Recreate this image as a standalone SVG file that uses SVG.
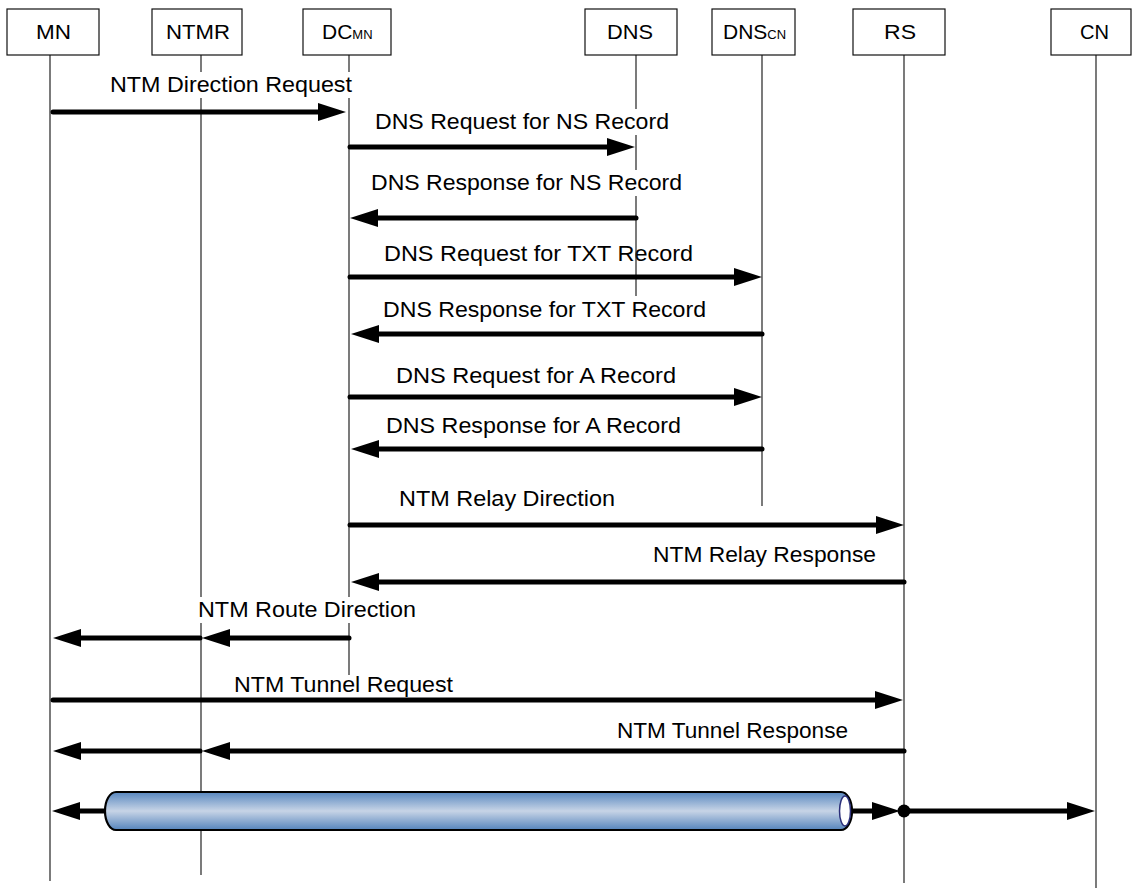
<svg xmlns="http://www.w3.org/2000/svg" width="1134" height="888" viewBox="0 0 1134 888">
<style>
.box{fill:#fff;stroke:#111;stroke-width:1.2}
.lbl{font-family:"Liberation Sans",Arial,sans-serif;font-size:21px;fill:#000}
.sub{font-size:13px}
.life{stroke:#222;stroke-width:1.2;fill:none}
.msg{stroke:#000;stroke-width:5;fill:none;stroke-linecap:round;marker-end:url(#ah)}
.msgtxt{font-family:"Liberation Sans",Arial,sans-serif;font-size:22px;fill:#000}
.mask{fill:#fff}
</style>
<defs>
<marker id="ah" viewBox="0 0 28 18" markerWidth="28" markerHeight="18" refX="4" refY="9" orient="auto" markerUnits="userSpaceOnUse">
<path d="M0,0 L28,9 L0,18 Z" fill="#000"/>
</marker>
<linearGradient id="tubeg" x1="0" y1="0" x2="0" y2="1">
<stop offset="0" stop-color="#5887bf"/>
<stop offset="0.5" stop-color="#c7d4e6"/>
<stop offset="1" stop-color="#5584bc"/>
</linearGradient>
</defs>
<rect width="1134" height="888" fill="#fff"/>

<g id="lifelines">
<line class="life" x1="50" y1="55" x2="50" y2="881"/>
<line class="life" x1="201" y1="55" x2="201" y2="875"/>
<line class="life" x1="349" y1="55" x2="349" y2="675"/>
<line class="life" x1="636" y1="55" x2="636" y2="240"/>
<line class="life" x1="762" y1="55" x2="762" y2="506"/>
<line class="life" x1="904" y1="55" x2="904" y2="883"/>
<line class="life" x1="1096" y1="55" x2="1096" y2="888"/>
</g>

<g id="node-MN">
<rect class="box" x="7" y="9" width="92" height="46"/>
<text class="lbl" x="36" y="39" textLength="35" lengthAdjust="spacingAndGlyphs">MN</text>
</g>
<g id="node-NTMR">
<rect class="box" x="152" y="9" width="90" height="46"/>
<text class="lbl" x="166" y="39" textLength="64" lengthAdjust="spacingAndGlyphs">NTMR</text>
</g>
<g id="node-DCMN">
<rect class="box" x="303" y="9" width="88" height="46"/>
<text class="lbl" x="322" y="39">DC<tspan class="sub">MN</tspan></text>
</g>
<g id="node-DNS">
<rect class="box" x="585" y="9" width="92" height="46"/>
<text class="lbl" x="607" y="39" textLength="46" lengthAdjust="spacingAndGlyphs">DNS</text>
</g>
<g id="node-DNSCN">
<rect class="box" x="712" y="9" width="83" height="46"/>
<text class="lbl" x="723" y="39">DNS<tspan class="sub">CN</tspan></text>
</g>
<g id="node-RS">
<rect class="box" x="853" y="9" width="92" height="46"/>
<text class="lbl" x="884" y="39" textLength="32" lengthAdjust="spacingAndGlyphs">RS</text>
</g>
<g id="node-CN">
<rect class="box" x="1051" y="9" width="80" height="46"/>
<text class="lbl" x="1080" y="39" textLength="29" lengthAdjust="spacingAndGlyphs">CN</text>
</g>

<g id="connectors">
<rect class="mask" x="108" y="72" width="246" height="26"/>
<rect class="mask" x="373" y="109" width="298" height="26"/>
<rect class="mask" x="369" y="170" width="315" height="26"/>
<rect class="mask" x="196" y="597" width="222" height="26"/>

<text class="msgtxt" x="110" y="92" textLength="242" lengthAdjust="spacingAndGlyphs">NTM Direction Request</text>
<path class="msg" d="M53,112 H322"/>

<text class="msgtxt" x="375" y="129" textLength="294" lengthAdjust="spacingAndGlyphs">DNS Request for NS Record</text>
<path class="msg" d="M350,147 H611"/>

<text class="msgtxt" x="371" y="190" textLength="311" lengthAdjust="spacingAndGlyphs">DNS Response for NS Record</text>
<path class="msg" d="M636,218 H374"/>

<text class="msgtxt" x="384" y="261" textLength="309" lengthAdjust="spacingAndGlyphs">DNS Request for TXT Record</text>
<line class="life" x1="636" y1="240" x2="636" y2="296"/>
<path class="msg" d="M350,277 H738"/>

<text class="msgtxt" x="383" y="317" textLength="323" lengthAdjust="spacingAndGlyphs">DNS Response for TXT Record</text>
<path class="msg" d="M762,334 H375"/>

<text class="msgtxt" x="396" y="383" textLength="280" lengthAdjust="spacingAndGlyphs">DNS Request for A Record</text>
<path class="msg" d="M350,397 H738"/>

<text class="msgtxt" x="386" y="433" textLength="295" lengthAdjust="spacingAndGlyphs">DNS Response for A Record</text>
<path class="msg" d="M762,449 H375"/>

<text class="msgtxt" x="399" y="506" textLength="216" lengthAdjust="spacingAndGlyphs">NTM Relay Direction</text>
<path class="msg" d="M350,525 H880"/>

<text class="msgtxt" x="653" y="562" textLength="223" lengthAdjust="spacingAndGlyphs">NTM Relay Response</text>
<path class="msg" d="M904,582 H375"/>

<text class="msgtxt" x="198" y="617" textLength="218" lengthAdjust="spacingAndGlyphs">NTM Route Direction</text>
<path class="msg" d="M349,638 H226"/>
<path class="msg" d="M200,638 H77"/>

<text class="msgtxt" x="234" y="692" textLength="219" lengthAdjust="spacingAndGlyphs">NTM Tunnel Request</text>
<path class="msg" d="M53,700 H879"/>

<text class="msgtxt" x="617" y="738" textLength="231" lengthAdjust="spacingAndGlyphs">NTM Tunnel Response</text>
<path class="msg" d="M904,751 H226"/>
<path class="msg" d="M200,751 H77"/>

<path class="msg" d="M105,811 H76"/>
<path class="msg" d="M852,811 H876"/>
<path class="msg" d="M904,811 H1071"/>
<circle cx="904" cy="811" r="6.5" fill="#000"/>
</g>

<g id="tunnel">
<path d="M116,792 H841 A11,19 0 0 1 841,830 H116 A11,19 0 0 1 116,792 Z" fill="url(#tubeg)" stroke="#000" stroke-width="2.2"/>
<ellipse cx="845" cy="811" rx="5.5" ry="15" fill="#fff" stroke="#2b2f7a" stroke-width="1.5"/>
</g>
</svg>
